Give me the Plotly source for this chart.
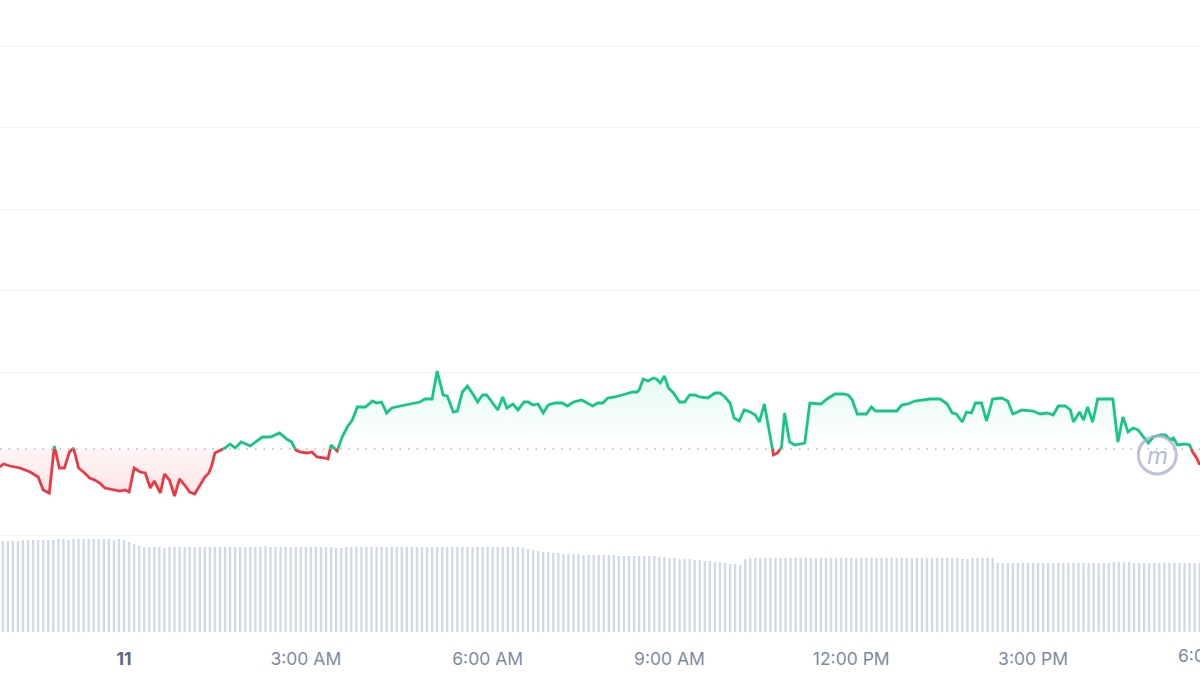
import plotly.graph_objects as go

# ---- price data (minutes relative to midnight of day "11", price) ----
times = [
    -123, -119, -113, -103, -93, -85, -80, -74, -69, -64,
    -59, -54, -50, -45, -39, -34, -29, -24, -19, -11,
    -4, 1, 5, 10, 16, 21, 26, 30, 36, 40,
    45, 50, 55, 60, 65, 70, 75, 80, 84, 87,
    90, 94, 100, 105, 110, 116, 125, 130, 137, 145,
    154, 161, 166, 170, 174, 181, 186, 191, 199, 202,
    205, 211, 216, 221, 226, 231, 239, 246, 250, 255,
    260, 265, 273, 283, 293, 298, 305, 310, 316, 320,
    326, 330, 335, 340, 346, 350, 355, 359, 365, 370,
    375, 379, 385, 390, 396, 400, 405, 410, 415, 420,
    427, 434, 439, 445, 453, 459, 464, 469, 474, 479,
    486, 493, 499, 504, 508, 510, 514, 519, 524, 527,
    531, 535, 539, 544, 550, 555, 560, 565, 570, 578,
    585, 590, 595, 600, 604, 609, 614, 620, 625, 629,
    634, 639, 643, 647, 651, 654, 659, 664, 669, 674,
    679, 690, 696, 704, 712, 717, 721, 726, 735, 740,
    744, 751, 765, 770, 776, 783, 790, 798, 808, 815,
    820, 824, 830, 834, 839, 843, 849, 854, 860, 869,
    875, 880, 889, 900, 907, 914, 920, 925, 932, 937,
    940, 946, 950, 954, 959, 964, 972, 979, 984, 989,
    994, 999, 1004, 1009, 1014, 1019, 1026, 1031, 1036, 1039,
    1043, 1050, 1055, 1058, 1062, 1065,
]
prices = [
    49.82, 49.85, 49.83, 49.81, 49.77, 49.72, 49.59, 49.56, 50.03, 49.81,
    49.81, 49.97, 50.01, 49.81, 49.76, 49.71, 49.69, 49.66, 49.61, 49.59,
    49.58, 49.59, 49.57, 49.81, 49.77, 49.76, 49.61, 49.68, 49.56, 49.75,
    49.69, 49.53, 49.70, 49.64, 49.57, 49.55, 49.64, 49.72, 49.76, 49.84,
    49.96, 49.98, 50.01, 50.05, 50.01, 50.07, 50.03, 50.07, 50.12, 50.12,
    50.16, 50.10, 50.07, 49.99, 49.97, 49.96, 49.97, 49.92, 49.91, 49.90,
    50.04, 49.98, 50.12, 50.22, 50.29, 50.42, 50.42, 50.48, 50.46, 50.47,
    50.36, 50.41, 50.43, 50.45, 50.47, 50.50, 50.50, 50.78, 50.54, 50.53,
    50.37, 50.38, 50.57, 50.63, 50.54, 50.47, 50.54, 50.54, 50.46, 50.39,
    50.52, 50.41, 50.45, 50.39, 50.47, 50.47, 50.44, 50.45, 50.36, 50.44,
    50.46, 50.46, 50.43, 50.47, 50.49, 50.46, 50.43, 50.46, 50.46, 50.51,
    50.52, 50.54, 50.56, 50.57, 50.57, 50.59, 50.70, 50.68, 50.71, 50.70,
    50.66, 50.73, 50.61, 50.56, 50.47, 50.47, 50.54, 50.54, 50.52, 50.51,
    50.56, 50.56, 50.52, 50.46, 50.31, 50.28, 50.39, 50.37, 50.34, 50.27,
    50.45, 50.17, 49.94, 49.96, 50.02, 50.36, 50.07, 50.04, 50.05, 50.06,
    50.46, 50.45, 50.50, 50.55, 50.55, 50.54, 50.49, 50.35, 50.35, 50.42,
    50.38, 50.38, 50.38, 50.44, 50.45, 50.48, 50.49, 50.50, 50.50, 50.45,
    50.36, 50.35, 50.27, 50.37, 50.36, 50.46, 50.46, 50.28, 50.50, 50.51,
    50.48, 50.35, 50.39, 50.38, 50.35, 50.36, 50.34, 50.43, 50.43, 50.39,
    50.27, 50.37, 50.29, 50.42, 50.27, 50.50, 50.50, 50.50, 50.07, 50.32,
    50.17, 50.21, 50.19, 50.12, 50.06, 50.12, 50.14, 50.14, 50.09, 50.11,
    50.04, 50.05, 50.04, 49.97, 49.91, 49.84,
]
open_price = 50.00

# ---- volume data (5-minute bars, millions) ----
volume = (
    [9.1, 9.1, 9.1, 9.1, 9.2, 9.2, 9.2, 9.2, 9.2, 9.2, 9.2, 9.3, 9.3, 9.2, 9.3,
     9.3, 9.3, 9.3, 9.3, 9.3, 9.3, 9.3, 9.2, 9.3, 9.2]
    + [9.0, 8.8, 8.6, 8.5]
    + [8.5, 8.5, 8.5, 8.4, 8.5, 8.5, 8.5, 8.5, 8.5, 8.5,
       8.5, 8.5, 8.5, 8.5, 8.5, 8.5, 8.5, 8.5, 8.5, 8.5,
       8.5, 8.5, 8.5, 8.6, 8.5, 8.5, 8.5, 8.5, 8.5, 8.5,
       8.5, 8.5, 8.5, 8.5, 8.5, 8.5, 8.5, 8.4, 8.4, 8.5,
       8.5, 8.5, 8.5, 8.5, 8.5, 8.5, 8.5, 8.5, 8.5, 8.5,
       8.5, 8.5, 8.5, 8.5, 8.5, 8.5, 8.5, 8.5, 8.5, 8.5,
       8.5, 8.5, 8.5, 8.5, 8.5, 8.5, 8.5, 8.5, 8.5, 8.5,
       8.5, 8.5, 8.5, 8.5, 8.4]
    + [8.3, 8.2, 8.1, 8.0, 8.0, 7.9]
    + [7.9, 7.8, 7.8, 7.8, 7.8, 7.7, 7.7, 7.7, 7.7, 7.7,
       7.7, 7.7, 7.6, 7.6, 7.6, 7.6, 7.6, 7.6, 7.6, 7.6]
    + [7.5, 7.5, 7.4, 7.4, 7.3, 7.3, 7.3, 7.2, 7.2, 7.1, 7.1, 7.0, 7.0, 6.9,
       6.8, 6.8, 6.7]
    + [7.3, 7.4, 7.4, 7.4, 7.4, 7.4, 7.4, 7.4, 7.4, 7.4,
       7.4, 7.4, 7.4, 7.4, 7.4, 7.4, 7.4, 7.4, 7.4, 7.4,
       7.4, 7.4, 7.4, 7.4, 7.4, 7.4, 7.4, 7.4, 7.4, 7.4,
       7.4, 7.4, 7.4, 7.4, 7.4, 7.4, 7.4, 7.4, 7.4, 7.4,
       7.4, 7.4, 7.4, 7.3, 7.3, 7.4, 7.4, 7.4, 7.4, 7.4]
    + [6.9, 6.9, 6.9, 6.9, 6.9, 6.9, 6.9, 6.9, 6.9, 6.9,
       6.9, 6.9, 6.9, 6.9, 6.9, 6.9, 6.9, 6.9, 6.9, 6.9,
       6.9, 6.9, 6.9, 7.0, 7.0, 7.0, 7.0, 6.9, 6.9, 6.9,
       6.9, 6.9, 6.9, 6.9, 6.9, 6.9, 6.9, 6.9, 6.9, 6.9, 6.9]
)
vol_times = [-120 + 5 * k for k in range(len(volume))]

tick_vals = [0, 180, 360, 540, 720, 900]
tick_text = ["<span style='color:#58667e'><b>11</b></span>", "3:00 AM", "6:00 AM",
             "9:00 AM", "12:00 PM", "3:00 PM"]
edge_tick_text = "6:00 PM"
grid_vals = [49.14, 50.77, 51.585, 52.40, 53.215, 54.03]
x_range = [-122.8, 1065.3]

GREEN = "#16c784"
RED = "#ea3943"

# ---- split the line into segments above / below the open price ----
segments = []
cur_x, cur_y = [times[0]], [prices[0]]
up = prices[0] >= open_price
for i in range(1, len(times)):
    t, p = times[i], prices[i]
    s = p >= open_price
    if s != up:
        tp, pp = times[i - 1], prices[i - 1]
        tc = tp + (open_price - pp) / (p - pp) * (t - tp)
        cur_x.append(tc)
        cur_y.append(open_price)
        segments.append((up, cur_x, cur_y))
        cur_x, cur_y = [tc], [open_price]
        up = s
    cur_x.append(t)
    cur_y.append(p)
segments.append((up, cur_x, cur_y))

fig = go.Figure()

# volume bars
fig.add_trace(go.Bar(x=vol_times, y=volume, yaxis="y2",
                     marker=dict(color="#d1d8e6", line=dict(width=0)),
                     hoverinfo="skip"))

pmax, pmin = max(prices), min(prices)
# fills
for up, xs, ys in segments:
    if up:
        grad = dict(type="vertical", start=open_price, stop=pmax,
                    colorscale=[[0, "rgba(22,199,132,0.0)"], [1, "rgba(22,199,132,0.11)"]])
    else:
        grad = dict(type="vertical", start=pmin, stop=open_price,
                    colorscale=[[0, "rgba(234,57,67,0.13)"], [1, "rgba(234,57,67,0.05)"]])
    fig.add_trace(go.Scatter(x=xs + [xs[-1], xs[0]], y=ys + [open_price, open_price],
                             mode="lines", line=dict(width=0), fill="toself",
                             fillgradient=grad, hoverinfo="skip"))

# baseline (open price)
fig.add_trace(go.Scatter(x=x_range, y=[open_price, open_price], mode="lines",
                         line=dict(color="#b5b8bf", width=1.3, dash="1.5px,7px"),
                         hoverinfo="skip"))

# price lines
for up, xs, ys in segments:
    fig.add_trace(go.Scatter(x=xs, y=ys, mode="lines",
                             line=dict(color=GREEN if up else RED, width=2.8, shape="linear")))

font = dict(family="Inter, Roboto, sans-serif", size=17.5, color="#808a9d")

fig.update_layout(
    width=1200, height=675,
    margin=dict(l=0, r=0, t=0, b=43),
    paper_bgcolor="white", plot_bgcolor="white",
    showlegend=False, bargap=0.55,
    xaxis=dict(range=x_range, tickvals=tick_vals, ticktext=tick_text,
               showgrid=False, zeroline=False, showline=False,
               ticks="outside", ticklen=11, tickcolor="rgba(0,0,0,0)",
               tickfont=font),
    yaxis=dict(range=[48.17, 54.49], tickvals=grid_vals,
               showticklabels=False, gridcolor="#f0f1f4", gridwidth=1,
               zeroline=False, showline=False),
    yaxis2=dict(range=[0, 63.2], overlaying="y", showgrid=False,
                showticklabels=False, zeroline=False, showline=False),
    annotations=[
        # the next time label, cut by the right edge as in the source view
        dict(x=0.98, xref="paper", xanchor="left", y=0, yref="paper", yanchor="top",
             yshift=-11, text=edge_tick_text, showarrow=False, font=font),
        dict(x=1023, xref="x", y=49.94, yref="y", text="<i>m</i>", showarrow=False,
             font=dict(family="Inter, sans-serif", size=24, color="rgba(170,175,205,0.85)")),
    ],
    shapes=[
        dict(type="circle", xref="x", yref="y", xsizemode="pixel", ysizemode="pixel",
             xanchor=1023, yanchor=49.94, x0=-19, x1=19, y0=-19, y1=19,
             line=dict(color="rgba(170,175,205,0.75)", width=3)),
    ],
)

fig.write_html("out.html", config={"displayModeBar": False},
               post_script="document.body.style.margin='0';document.body.style.overflow='hidden';")
